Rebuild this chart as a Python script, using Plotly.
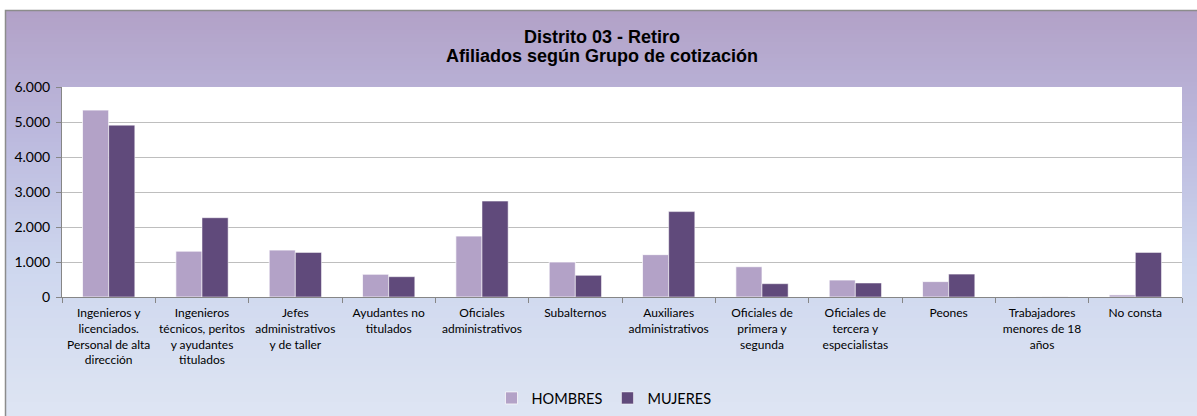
import plotly.graph_objects as go

categories = [
    "Ingenieros y<br>licenciados.<br>Personal de alta<br>dirección",
    "Ingenieros<br>técnicos, peritos<br>y ayudantes<br>titulados",
    "Jefes<br>administrativos<br>y de taller",
    "Ayudantes no<br>titulados",
    "Oficiales<br>administrativos",
    "Subalternos",
    "Auxiliares<br>administrativos",
    "Oficiales de<br>primera y<br>segunda",
    "Oficiales de<br>tercera y<br>especialistas",
    "Peones",
    "Trabajadores<br>menores de 18<br>años",
    "No consta",
]
hombres = [5340, 1310, 1340, 650, 1740, 1000, 1210, 865, 485, 440, 5, 60]
mujeres = [4910, 2265, 1275, 580, 2740, 620, 2440, 380, 400, 655, 3, 1275]
title_lines = ["Distrito 03 - Retiro", "Afiliados según Grupo de cotización"]

W, H = 1197, 416
L, R, T, B = 62, 15, 87, 119
pw, ph = W - L - R, H - T - B


def px2paper_x(x):
    return (x - L) / pw


def px2paper_y(y):
    return (H - B - y) / ph


def lerp(c1, c2, t):
    return tuple(round(a + (b - a) * t) for a, b in zip(c1, c2))


stops = [(10, (178, 161, 199)), (140, (188, 186, 222)), (260, (205, 214, 238)), (416, (222, 229, 243))]


def color_at(y):
    for (y0, c0), (y1, c1) in zip(stops, stops[1:]):
        if y <= y1:
            return lerp(c0, c1, (y - y0) / (y1 - y0))
    return stops[-1][1]


shapes = []
step = 4
y = 10
while y < 420:
    c = color_at(y + step / 2)
    shapes.append(dict(type="rect", xref="paper", yref="paper", layer="below",
                       x0=px2paper_x(5), x1=px2paper_x(1200),
                       y0=px2paper_y(y + step + 0.5), y1=px2paper_y(y),
                       line=dict(width=0), fillcolor="rgb(%d,%d,%d)" % c))
    y += step
# outer border
shapes.append(dict(type="rect", xref="paper", yref="paper", layer="below",
                   x0=px2paper_x(5.5), x1=px2paper_x(1210),
                   y0=px2paper_y(430), y1=px2paper_y(10.5),
                   line=dict(width=1.5, color="#8C8C8C"), fillcolor="rgba(0,0,0,0)"))
# white plot area
shapes.append(dict(type="rect", xref="paper", yref="paper", layer="below",
                   x0=0, x1=1, y0=0, y1=1, line=dict(width=0), fillcolor="white"))

annotations = []
for txt, base in zip(title_lines, [45, 64]):
    annotations.append(dict(text="<b>%s</b>" % txt, xref="paper", yref="paper",
                            x=px2paper_x(602), y=px2paper_y(base + 4), xanchor="center", yanchor="bottom",
                            showarrow=False,
                            font=dict(family="Liberation Sans, Arial", size=18, color="black")))

fig = go.Figure()
fig.add_trace(go.Bar(x=categories, y=hombres, name="HOMBRES",
                     marker=dict(color="#B3A2C7", line=dict(color="rgba(255,255,255,0.7)", width=1))))
fig.add_trace(go.Bar(x=categories, y=mujeres, name="MUJERES",
                     marker=dict(color="#604A7B", line=dict(color="rgba(255,255,255,0.5)", width=1))))

fig.update_layout(
    width=W, height=H,
    margin=dict(l=L, r=R, t=T, b=B, autoexpand=False),
    paper_bgcolor="white",
    plot_bgcolor="white",
    separators=",.",
    barmode="group",
    bargap=0.44,
    bargroupgap=0,
    shapes=shapes,
    annotations=annotations,
    legend=dict(orientation="h", x=px2paper_x(604), xanchor="center", y=px2paper_y(398), yanchor="middle",
                font=dict(family="Lato, Carlito, sans-serif", size=14.5, color="black"),
                bgcolor="rgba(0,0,0,0)", itemwidth=30, traceorder="normal"),
    font=dict(family="Lato, sans-serif", color="black"),
)
fig.update_yaxes(range=[0, 6000], dtick=1000, tickformat=",d",
                 showgrid=True, gridcolor="#BEBEBE", gridwidth=1.3,
                 showline=True, linecolor="#868686", linewidth=1,
                 ticks="outside", ticklen=5, tickcolor="#868686", ticklabelstandoff=3,
                 tickfont=dict(family="Lato, sans-serif", size=14, color="black"),
                 zeroline=False)
fig.update_xaxes(showline=True, linecolor="#868686", linewidth=1,
                 ticks="outside", ticklen=5, tickcolor="#868686", tickson="boundaries",
                 ticklabelstandoff=5,
                 tickfont=dict(family="Lato, sans-serif", size=12, color="black"),
                 tickangle=0)

fig.write_html("out.html", config={"displayModeBar": False},
               post_script="document.body.style.margin='0';document.body.style.overflow='hidden';")
